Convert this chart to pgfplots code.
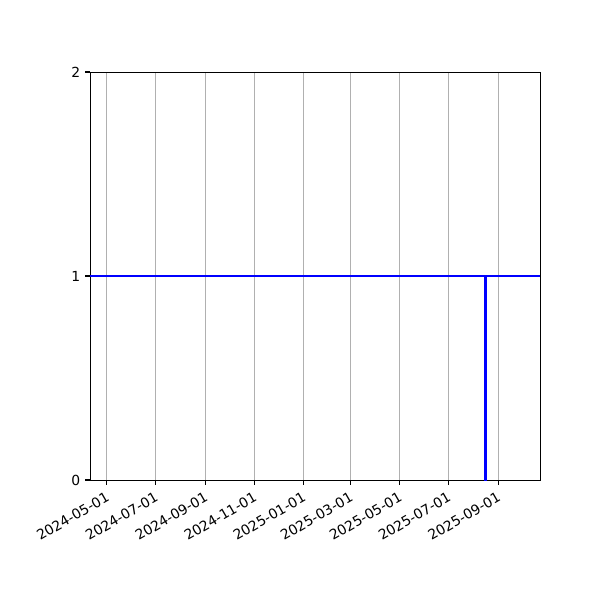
\documentclass[border=0pt]{standalone}
\usepackage{fontspec}
\setmainfont{DejaVu Sans}
\usepackage{pgfplots}
\pgfplotsset{compat=1.18}
\usepgfplotslibrary{dateplot}

\begin{document}
\begin{tikzpicture}
\useasboundingbox (-64.8pt,-86.4pt) rectangle (367.2pt,345.6pt);
\begin{axis}[
    at={(0,0)}, anchor=south west,
    width=324pt, height=293.76pt, scale only axis,
    date coordinates in=x,
    xmin=2024-04-10, xmax=2025-10-23,
    ymin=0, ymax=2,
    xtick={2024-05-01,2024-07-01,2024-09-01,2024-11-01,2025-01-01,2025-03-01,2025-05-01,2025-07-01,2025-09-01},
    xticklabel=\year-\month-\day,
    ytick={0,1,2},
    xtick pos=bottom, ytick pos=left,
    tick align=outside,
    major tick length=3.5pt,
    every tick/.style={black, line width=0.8pt},
    axis line style={line width=0.7pt},
    xmajorgrids,
    grid style={color=black!31, line width=0.8pt},
    x tick label style={rotate=30, anchor=north east, font=\fontsize{10}{12}\selectfont},
    y tick label style={font=\fontsize{10}{12}\selectfont},
    /pgf/number format/assume math mode=true,
]
\addplot[blue, line width=1.5pt, line join=miter, mark=none] coordinates {
    (2024-04-10,1) (2025-08-15,1) (2025-08-15,0) (2025-08-17,0) (2025-08-17,1) (2025-10-23,1)
};
\end{axis}
\end{tikzpicture}
\end{document}
